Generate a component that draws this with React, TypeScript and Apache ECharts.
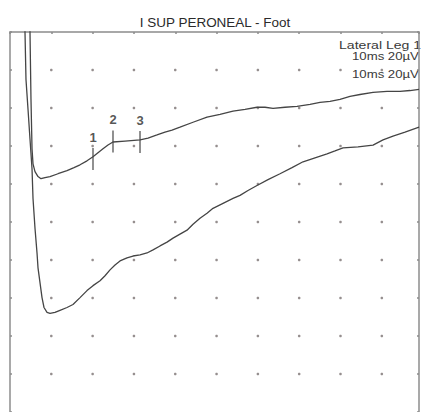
import React, { useEffect, useRef } from "react";
import * as echarts from "echarts";

// Time in ms (10 ms/div), amplitude in µV (20 µV/div)
const titleText = "I SUP PERONEAL - Foot";
const siteText = "Lateral Leg 1";
const scaleText = "10ms 20µV";

const gridXTicks = [10, 20, 30, 40, 50, 60, 70, 80, 90];
const gridYTicks = [-80, -60, -40, -20, 0, 20, 40, 60, 80];

const upperTrace: [number, number][] = [
  [4.72, 116.7], [4.84, 100], [5.08, 64.5], [5.33, 38.5], [5.57, 30.6], [6.05, 26.5],
  [6.78, 23.9], [7.5, 22.8], [8.47, 23.3], [9.68, 23.9], [11.62, 25.4], [13.8, 27.0],
  [15.49, 28.6], [16.95, 30.1], [18.64, 32.2], [20.09, 34.3], [21.3, 36.4], [22.51, 38.5],
  [23.72, 40.5], [24.93, 42.1], [27.84, 42.6], [31.47, 43.2], [33.41, 44.2], [35.58, 45.8],
  [37.52, 47.3], [39.22, 48.4], [41.15, 49.9], [44.3, 52.5], [47.69, 55.2], [50.84, 56.7],
  [53.98, 58.3], [56.89, 59.3], [59.79, 60.4], [61.73, 60.4], [63.67, 59.8], [66.57, 60.4],
  [69.47, 60.9], [72.63, 61.9], [75.04, 63.0], [77.46, 63.5], [79.88, 64.5], [82.3, 66.1],
  [84.72, 67.1], [87.87, 68.2], [91.26, 68.7], [94.41, 68.7], [96.83, 69.2], [99.01, 69.8],
];

const lowerTrace: [number, number][] = [
  [3.51, 116.7], [3.63, 100], [3.87, 75.0], [4.36, 59.3], [4.84, 43.7], [5.33, 28.0],
  [5.57, 12.4], [6.05, -3.3], [6.54, -16.3], [6.78, -24.1], [7.26, -31.9], [7.75, -39.8],
  [8.23, -45.0], [8.96, -47.6], [9.68, -48.1], [10.89, -47.6], [12.1, -46.5], [13.8, -45.0],
  [15.25, -43.4], [16.95, -39.8], [18.64, -36.1], [20.09, -33.5], [21.79, -30.9], [23.0, -28.3],
  [24.21, -25.2], [25.42, -22.6], [26.63, -20.5], [28.32, -18.9], [29.77, -17.9], [31.47, -17.3],
  [33.16, -16.3], [34.62, -14.7], [36.31, -12.6], [38.01, -10.6], [39.46, -8.5], [41.15, -6.4],
  [42.85, -4.3], [44.3, -1.2], [45.99, 2.0], [47.69, 4.6], [49.14, 7.2], [51.56, 9.8],
  [53.98, 12.4], [55.68, 14.0], [57.61, 16.6], [59.79, 19.2], [62.45, 22.3], [65.36, 25.4],
  [68.26, 28.6], [70.93, 31.7], [73.83, 33.8], [76.74, 35.9], [78.67, 37.4], [80.61, 39.0],
  [84.24, 39.5], [87.87, 40.5], [90.29, 43.2], [92.71, 45.2], [95.62, 47.3], [99.01, 49.9],
];

const markerNames = ["1", "2", "3"];
const markerTimes = [20.09, 24.93, 31.47];
const markerLevels = [33.2, 42.4, 42.1];

const FONT = "'Liberation Sans', Arial, sans-serif";

export default function App() {
  const ref = useRef<HTMLDivElement>(null);
  useEffect(() => {
    if (!ref.current) return;
    const chart = echarts.init(ref.current, undefined, { renderer: "svg" });
    const dots: [number, number][] = [];
    gridXTicks.forEach((x) => gridYTicks.forEach((y) => dots.push([x, y])));
    const frameLine = { show: true, onZero: false, lineStyle: { color: "#8c8c8c", width: 1.5 } };
    const tick = { show: true, inside: true, length: 2, lineStyle: { color: "#8c8c8c", width: 1.5 } };
    chart.setOption({
      animation: false,
      backgroundColor: "#ffffff",
      grid: { left: 10, top: 32, width: 409, height: 383.5, show: false },
      xAxis: {
        type: "value", min: 0, max: 99, interval: 10, position: "top",
        axisLine: frameLine, axisTick: tick, axisLabel: { show: false }, splitLine: { show: false },
      },
      yAxis: [
        {
          type: "value", min: -100, max: 100, interval: 20, position: "left",
          axisLine: frameLine, axisTick: tick, axisLabel: { show: false }, splitLine: { show: false },
        },
        {
          type: "value", min: -100, max: 100, interval: 20, position: "right",
          axisLine: frameLine, axisTick: tick, axisLabel: { show: false }, splitLine: { show: false },
        },
      ],
      graphic: [
        {
          type: "text", x: 215, y: 23, scaleX: 1.08, originX: 0, originY: 0,
          style: { text: titleText, font: `12.5px ${FONT}`, fill: "#2a2a2a", align: "center", verticalAlign: "middle" },
        },
        {
          type: "text", x: 339, y: 46, scaleX: 1.28, originX: 0, originY: 0,
          style: { text: siteText, font: `11px ${FONT}`, fill: "#3a3a3a", align: "left", verticalAlign: "middle" },
        },
        {
          type: "text", x: 352, y: 56.5, scaleX: 1.2, originX: 0, originY: 0,
          style: { text: scaleText, font: `11px ${FONT}`, fill: "#3a3a3a", align: "left", verticalAlign: "middle" },
        },
        {
          type: "text", x: 352, y: 74, scaleX: 1.2, originX: 0, originY: 0,
          style: { text: scaleText, font: `11px ${FONT}`, fill: "#3a3a3a", align: "left", verticalAlign: "middle" },
        },
      ],
      series: [
        {
          type: "scatter", data: dots, symbol: "circle", symbolSize: 2.6,
          itemStyle: { color: "#7a7272" }, silent: true,
        },
        {
          type: "line", data: lowerTrace, showSymbol: false, clip: true,
          lineStyle: { color: "#454545", width: 1.3 },
        },
        {
          type: "line", data: upperTrace, showSymbol: false, clip: true,
          lineStyle: { color: "#454545", width: 1.3 },
        },
        {
          type: "scatter",
          symbol: "rect",
          symbolSize: [1.4, 22],
          itemStyle: { color: "#3a3a3a" },
          data: markerNames.map((n, i) => ({ name: n, value: [markerTimes[i], markerLevels[i]] })),
          label: {
            show: true, position: "top", distance: 4, formatter: "{b}",
            fontFamily: FONT, fontSize: 13, fontWeight: "bold", color: "#2a2a2a",
          },
        },
      ],
    });
    return () => chart.dispose();
  }, []);
  return (
    <div
      ref={ref}
      style={{ position: "fixed", left: 0, top: 0, width: 422, height: 412, background: "#fff" }}
    />
  );
}
